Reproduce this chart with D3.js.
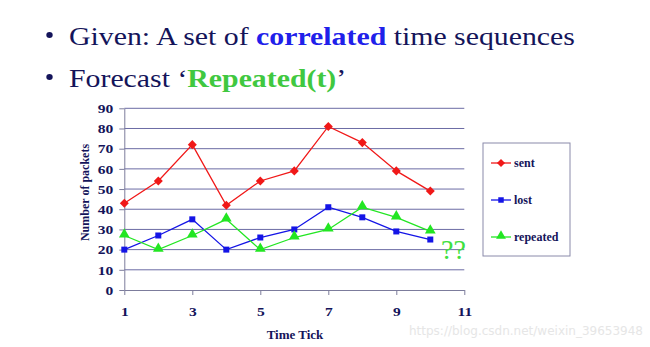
<!DOCTYPE html>
<html><head><meta charset="utf-8">
<script src="https://cdn.jsdelivr.net/npm/d3@7"></script>
<style>body{margin:0;background:#fff}svg{display:block}</style>
</head><body>
<svg id="c" width="650" height="347"></svg>
<script>
const timeTicks = [1,2,3,4,5,6,7,8,9,10];
const sent     = [43,54,72,42,54,59,81,73,59,49];
const lost     = [20,27,35,20,26,30,41,36,29,25];
const repeated = [27,20,27,35,20,26,30,41,36,29];
const xTickValues = [1,3,5,7,9,11];
const yTickValues = [0,10,20,30,40,50,60,70,80,90];
const seriesNames = ["sent","lost","repeated"];

const svg = d3.select("#c");
const navy = "#14145a";
const serif = "'Liberation Serif','Times New Roman',serif";

// Title lines (horizontally stretched like the source slide)
const g1 = svg.append("g");
const t1 = g1.append("text").attr("x",0).attr("y",0).attr("font-family",serif).attr("font-size",25).attr("fill",navy);
t1.append("tspan").text("Given: A set of ");
t1.append("tspan").attr("font-weight","bold").attr("fill","#2020ea").text("correlated");
t1.append("tspan").text(" time sequences");
const len1 = t1.node().getComputedTextLength();
const k = 506 / len1;
g1.attr("transform",`translate(69,44.5) scale(${k},1)`);
const g2 = svg.append("g").attr("transform",`translate(69,86.5) scale(${k},1)`);
const t2 = g2.append("text").attr("x",0).attr("y",0).attr("font-family",serif).attr("font-size",25).attr("fill",navy);
t2.append("tspan").text("Forecast \u2018");
t2.append("tspan").attr("font-weight","bold").attr("fill","#40c840").text("Repeated(t)");
t2.append("tspan").text("\u2019");
[44.5,86.5].forEach(yy=>{
  svg.append("ellipse").attr("cx",49.5).attr("cy",yy-9.5).attr("rx",3.2).attr("ry",2.9).attr("fill",navy);
});

const x = d3.scaleLinear().domain([1,11]).range([124.3,464.3]);
const y = d3.scaleLinear().domain([0,90]).range([290,108.3]);

// gridlines
svg.append("g").selectAll("line").data(yTickValues.filter(d=>d>0)).join("line")
  .attr("x1",x(1)).attr("x2",x(11)).attr("y1",d=>y(d)).attr("y2",d=>y(d))
  .attr("stroke","#6c6ca4").attr("stroke-width",1);

// axes
const yAxis = svg.append("g").attr("transform",`translate(${x(1)},0)`)
  .call(d3.axisLeft(y).tickValues(yTickValues).tickSize(5).tickPadding(6).tickSizeOuter(0));
const xAxis = svg.append("g").attr("transform",`translate(0,${y(0)})`)
  .call(d3.axisBottom(x).tickValues(xTickValues).tickSize(5).tickPadding(11).tickSizeOuter(0));
[yAxis,xAxis].forEach(g=>{
  g.select(".domain").attr("stroke","#7c7c9c").attr("stroke-width",1);
  g.selectAll(".tick line").attr("stroke","#7c7c9c");
  g.selectAll("text").attr("font-family",serif).attr("font-size",13.5).attr("font-weight","bold").attr("fill",navy);
});
xAxis.selectAll(".tick text").attr("transform","scale(1.15,1)").attr("x",0);
yAxis.selectAll(".tick text").each(function(){
  const t=d3.select(this); const xx=+t.attr("x");
  t.attr("transform",`translate(${xx},0) scale(1.15,1)`).attr("x",0);
});

// axis titles
svg.append("text").attr("transform","translate(89,192.5) rotate(-90)").attr("text-anchor","middle")
  .attr("font-family",serif).attr("font-size",12).attr("font-weight","bold").attr("fill",navy).text("Number of packets");
svg.append("text").attr("x",295).attr("y",339).attr("text-anchor","middle")
  .attr("font-family",serif).attr("font-size",13).attr("font-weight","bold").attr("fill",navy).text("Time Tick");

const colors = {sent:"#f01818", lost:"#1414e6", repeated:"#22e622"};
const data = {sent, lost, repeated};
const symbols = {sent:d3.symbol(d3.symbolDiamond2,52), lost:d3.symbol(d3.symbolSquare,36), repeated:d3.symbol(d3.symbolTriangle,50)};
const line = d3.line().x((d,i)=>x(timeTicks[i])).y(d=>y(d));

seriesNames.forEach(name=>{
  const g = svg.append("g");
  g.append("path").attr("d",line(data[name])).attr("fill","none").attr("stroke",colors[name]).attr("stroke-width",1.3);
  g.selectAll("path.m").data(data[name]).join("path").attr("class","m")
    .attr("transform",(d,i)=>`translate(${x(timeTicks[i])},${y(d)+(name==="repeated"?-1:0)})`)
    .attr("d",symbols[name]()).attr("fill",colors[name]);
});

// legend
svg.append("rect").attr("x",483).attr("y",143).attr("width",87).attr("height",113)
  .attr("fill","#fff").attr("stroke","#8a8aaa").attr("stroke-width",1);
const legY = {sent:163, lost:200, repeated:237};
seriesNames.forEach(name=>{
  const g = svg.append("g");
  g.append("line").attr("x1",491).attr("x2",511).attr("y1",legY[name]).attr("y2",legY[name]).attr("stroke",colors[name]).attr("stroke-width",1.3);
  g.append("path").attr("transform",`translate(501,${legY[name]-(name==="repeated"?1:0)})`)
    .attr("d",d3.symbol(name==="sent"?d3.symbolDiamond2:name==="lost"?d3.symbolSquare:d3.symbolTriangle, name==="lost"?30:42)()).attr("fill",colors[name]);
  g.append("text").attr("x",514).attr("y",legY[name]+4).attr("font-family",serif).attr("font-size",12)
    .attr("font-weight","bold").attr("fill",navy).text(name);
});

// ?? annotation
svg.append("text").attr("x",441).attr("y",259).attr("font-family",serif).attr("font-size",28)
  .attr("fill","#3ee03e").text("??");

// watermark
svg.append("text").attr("x",643).attr("y",335).attr("text-anchor","end").attr("font-family","'DejaVu Sans',sans-serif")
  .attr("font-size",12).attr("fill","#e6e6e6").text("https://blog.csdn.net/weixin_39653948");
</script>
</body></html>
